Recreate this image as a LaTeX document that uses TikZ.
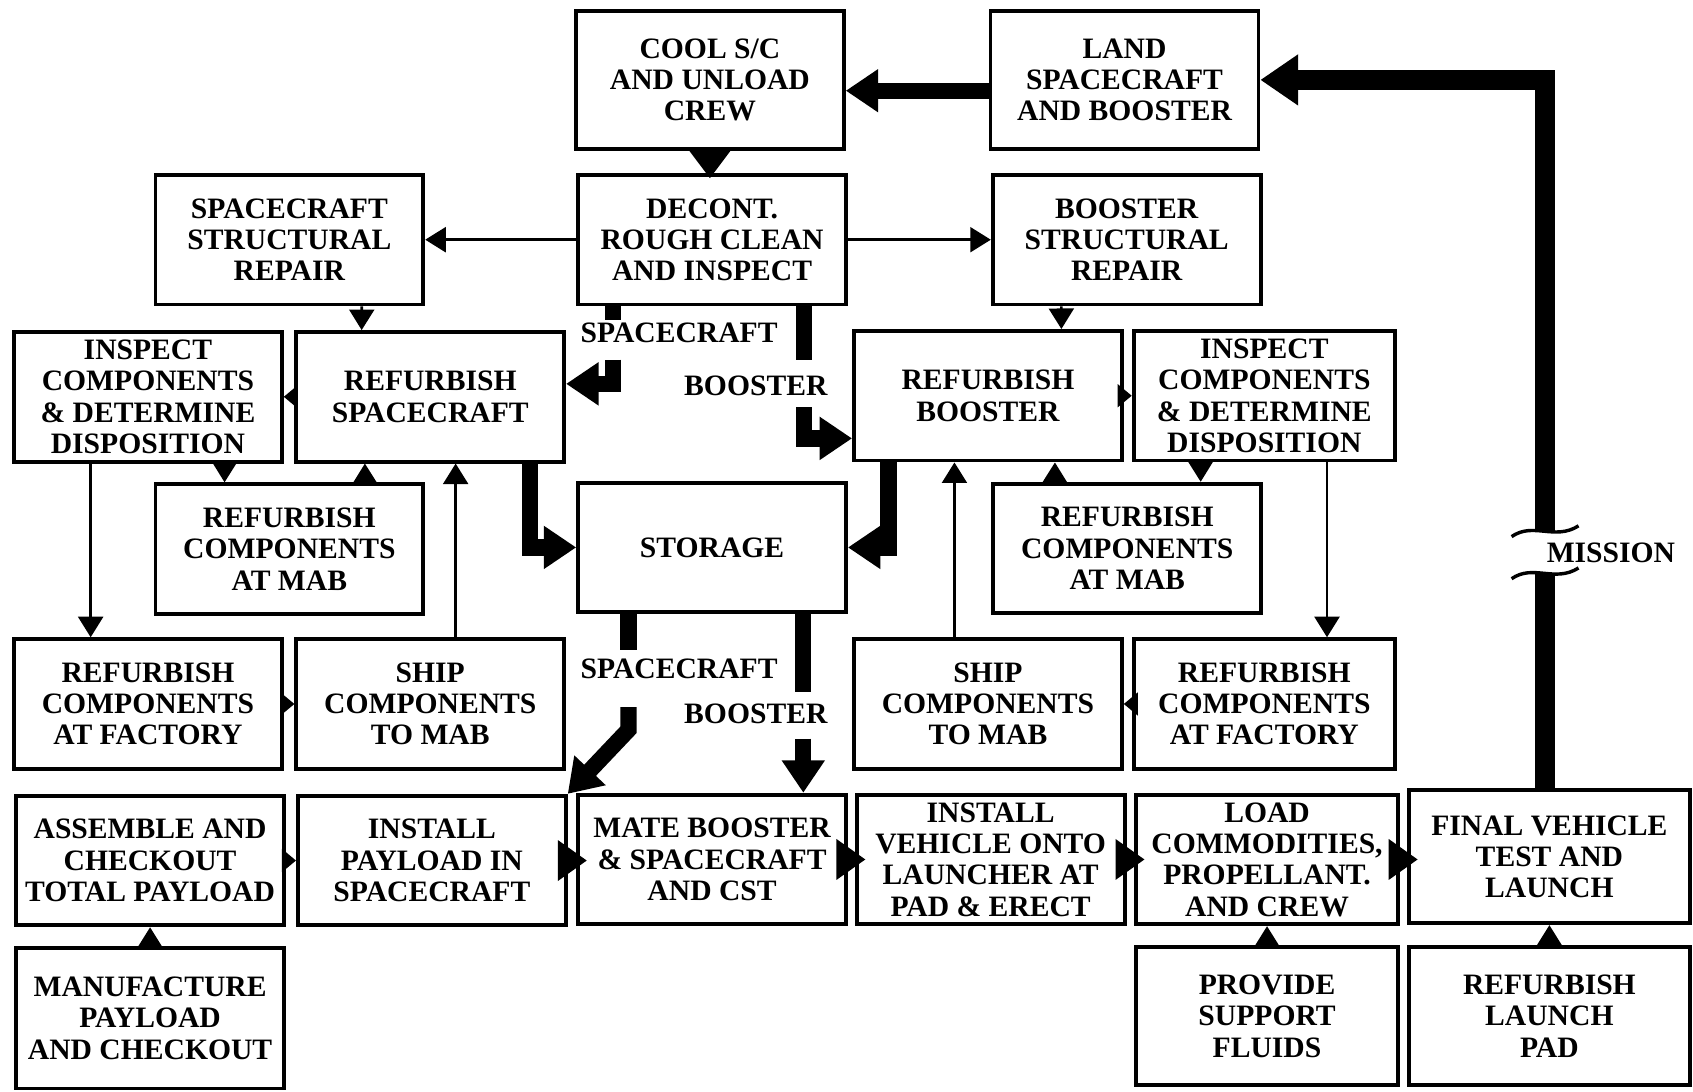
\documentclass[tikz,border=0pt]{standalone}
\usepackage{fontspec}
\setmainfont{Liberation Serif}
\usetikzlibrary{arrows.meta,positioning,calc}

\begin{document}
\begin{tikzpicture}[
    x=0.01cm, y=-0.01cm,
    font=\fontsize{7.8}{8.25}\selectfont\bfseries,
    stage/.style={
        rectangle,
        draw=black,
        line width=1pt,
        minimum width=2.48cm,
        minimum height=1.2cm,
        inner sep=0pt,
        align=center,
        fill=white
    },
    tag/.style={
        inner sep=0pt
    },
    thinarrow/.style={-{Triangle[length=0.19cm,width=0.23cm]}, line width=0.7pt},
    nub/.style={-{Triangle[length=0.13cm,width=0.21cm]}, line width=0.7pt},
    midarrow/.style={-{Triangle[length=0.27cm,width=0.36cm]}, line width=0.08cm,
        shorten <=-0.07cm, shorten >=-0.1cm},
    heavy/.style={line width=0.15cm},
    heavyarrow/.style={heavy, -{Triangle[length=0.3cm,width=0.38cm]}},
    brk/.style={line width=0.9pt}
]

\useasboundingbox (0,0) rectangle (1568,1011);

% =========================================================
% RECOVERY: LANDING AND FIRST CLEAN-UP
% =========================================================

\node[stage, minimum height=1.28cm] (cool) at (657.5,74)
{COOL S/C\\AND UNLOAD\\CREW};

\node[stage, minimum height=1.28cm] (land) at (1041.5,74)
{LAND\\SPACECRAFT\\AND BOOSTER};

\node[stage] (screpair) at (268,222)
{SPACECRAFT\\STRUCTURAL\\REPAIR};

\node[stage] (decont) at (659.5,222)
{DECONT.\\ROUGH CLEAN\\AND INSPECT};

\node[stage] (bstrepair) at (1043.5,222)
{BOOSTER\\STRUCTURAL\\REPAIR};

% =========================================================
% REFURBISHMENT: SPACECRAFT (LEFT) AND BOOSTER (RIGHT)
% =========================================================

\node[stage] (scinspect) at (137,367.5)
{INSPECT\\COMPONENTS\\\& DETERMINE\\DISPOSITION};

\node[stage] (screfurb) at (398.5,367.5)
{REFURBISH\\SPACECRAFT};

\node[stage] (bstrefurb) at (915,366.5)
{REFURBISH\\BOOSTER};

\node[stage, minimum width=2.42cm] (bstinspect) at (1171,366.5)
{INSPECT\\COMPONENTS\\\& DETERMINE\\DISPOSITION};

\node[stage] (scmab) at (268,508.5)
{REFURBISH\\COMPONENTS\\AT MAB};

\node[stage] (storage) at (659.5,507)
{STORAGE};

\node[stage] (bstmab) at (1044,508)
{REFURBISH\\COMPONENTS\\AT MAB};

\node[stage] (scfactory) at (137,652)
{REFURBISH\\COMPONENTS\\AT FACTORY};

\node[stage] (scship) at (398.5,652)
{SHIP\\COMPONENTS\\TO MAB};

\node[stage] (bstship) at (915,652)
{SHIP\\COMPONENTS\\TO MAB};

\node[stage, minimum width=2.42cm] (bstfactory) at (1171,652)
{REFURBISH\\COMPONENTS\\AT FACTORY};

% =========================================================
% PREPARATION AND LAUNCH
% =========================================================

\node[stage] (assemble) at (139,797)
{ASSEMBLE AND\\CHECKOUT\\TOTAL PAYLOAD};

\node[stage] (install) at (400,797)
{INSTALL\\PAYLOAD IN\\SPACECRAFT};

\node[stage] (mate) at (659.5,796)
{MATE BOOSTER\\\& SPACECRAFT\\AND CST};

\node[stage] (erect) at (917.5,796)
{INSTALL\\VEHICLE ONTO\\LAUNCHER AT\\PAD \& ERECT};

\node[stage, minimum width=2.43cm] (loadcrew) at (1173.5,796)
{LOAD\\COMMODITIES,\\PROPELLANT.\\AND CREW};

\node[stage, minimum width=2.6cm, minimum height=1.23cm] (launch) at (1435,793.5)
{FINAL VEHICLE\\TEST AND\\LAUNCH};

\node[stage, minimum height=1.3cm] (manufacture) at (139,943)
{MANUFACTURE\\PAYLOAD\\AND CHECKOUT};

\node[stage, minimum width=2.43cm, minimum height=1.28cm] (fluids) at (1173.5,941)
{PROVIDE\\SUPPORT\\FLUIDS};

\node[stage, minimum width=2.6cm, minimum height=1.28cm] (padrefurb) at (1435,941)
{REFURBISH\\LAUNCH\\PAD};

% =========================================================
% FLOW LABELS
% =========================================================

\node[tag] (sclabel1) at (629,308) {SPACECRAFT};
\node[tag] (bstlabel1) at (700,357) {BOOSTER};
\node[tag] (sclabel2) at (629,619) {SPACECRAFT};
\node[tag] (bstlabel2) at (700,661) {BOOSTER};
\node[tag] (missionlabel) at (1492,512) {MISSION};

\coordinate (sc1a) at (568,296);
\coordinate (sc1b) at (568,333);
\coordinate (bst1a) at (745,333);
\coordinate (bst1b) at (745,377);
\coordinate (sc2a) at (582,602);
\coordinate (sc2b) at (582,655);
\coordinate (sc2c) at (582,676);
\coordinate (bst2a) at (744,641);
\coordinate (bst2b) at (744,684);
\coordinate (msnlo) at (1431,531);
\coordinate (msnhi) at (1431,492);

% =========================================================
% ARROWS
% =========================================================

% Recovery
\draw[heavyarrow] ([yshift=-0.1cm]land.west) -- ([yshift=-0.1cm]cool.east);
\draw[heavyarrow, -{Triangle[length=0.26cm,width=0.37cm]}, shorten >=-0.05cm]
    (cool.south) -- (cool.south |- decont.north);
\draw[thinarrow] (decont.west) -- (screpair.east);
\draw[thinarrow] (decont.east) -- (bstrepair.west);
\draw[thinarrow] ([xshift=0.67cm]screpair.south) -- ([xshift=-0.635cm]screfurb.north);
\draw[thinarrow] ([xshift=-0.605cm]bstrepair.south) -- ([xshift=0.68cm]bstrefurb.north);

% Spacecraft and booster leaving decontamination
\draw[heavy] (decont.south -| sc1a) -- (sc1a);
\draw[heavyarrow] (sc1b) |- ([yshift=0.12cm]screfurb.east);
\draw[heavy] (decont.south -| bst1a) -- (bst1a);
\draw[heavyarrow] (bst1b) |- ([yshift=-0.395cm]bstrefurb.west);

% Spacecraft component loop
\draw[nub] (screfurb.west) -- (scinspect.east);
\draw[thinarrow] ([xshift=0.71cm]scinspect.south) -- ([xshift=-0.6cm]scmab.north);
\draw[thinarrow] ([xshift=0.70cm]scmab.north) -- ([xshift=-0.605cm]screfurb.south);
\draw[thinarrow] ([xshift=-0.53cm]scinspect.south) -- ([xshift=-0.53cm]scfactory.north);
\draw[nub] (scfactory.east) -- (scship.west);
\draw[thinarrow] ([xshift=0.235cm]scship.north) -- ([xshift=0.235cm]screfurb.south);

% Booster component loop
\draw[nub] (bstrefurb.east) -- (bstinspect.west);
\draw[thinarrow] ([xshift=-0.59cm]bstinspect.south) -- ([xshift=0.68cm]bstmab.north);
\draw[thinarrow] ([xshift=-0.67cm]bstmab.north) -- ([xshift=0.62cm]bstrefurb.south);
\draw[thinarrow] ([xshift=0.58cm]bstinspect.south) -- ([xshift=0.58cm]bstfactory.north);
\draw[nub] (bstfactory.west) -- (bstship.east);
\draw[thinarrow] ([xshift=-0.31cm]bstship.north) -- ([xshift=-0.31cm]bstrefurb.south);

% Into and out of storage
\draw[heavyarrow] ([xshift=0.925cm]screfurb.south) |- (storage.west);
\draw[heavyarrow] ([xshift=-0.92cm]bstrefurb.south) |- (storage.east);
\draw[heavy] (storage.south -| sc2a) -- (sc2a);
\draw[heavyarrow] (sc2b) -- (sc2c) -- (install.north east);
\draw[heavy] (storage.south -| bst2a) -- (bst2a);
\draw[heavyarrow] (bst2b) -- (bst2b |- mate.north);

% Launch chain
\draw[nub] (assemble.east) -- (install.west);
\draw[midarrow] (install.east) -- (install.east -| mate.west);
\draw[midarrow] (mate.east) -- (erect.west);
\draw[midarrow] (erect.east) -- (loadcrew.west);
\draw[midarrow] (loadcrew.east) -- (loadcrew.east -| launch.west);
\draw[thinarrow] (manufacture.north) -- (assemble.south);
\draw[thinarrow] (fluids.north) -- (loadcrew.south);
\draw[thinarrow] (padrefurb.north) -- (padrefurb.north |- launch.south);

% Mission back to landing
\draw[heavy, line width=0.19cm] (launch.north -| msnlo) -- (msnlo);
\draw[heavyarrow, line width=0.19cm, -{Triangle[length=0.35cm,width=0.45cm]}]
    (msnhi) |- (land.east);
\draw[brk] (1400,497) .. controls (1420,483) and (1440,501) .. (1462,487);
\draw[brk] (1400,536) .. controls (1420,522) and (1440,540) .. (1462,526);

\end{tikzpicture}
\end{document}
